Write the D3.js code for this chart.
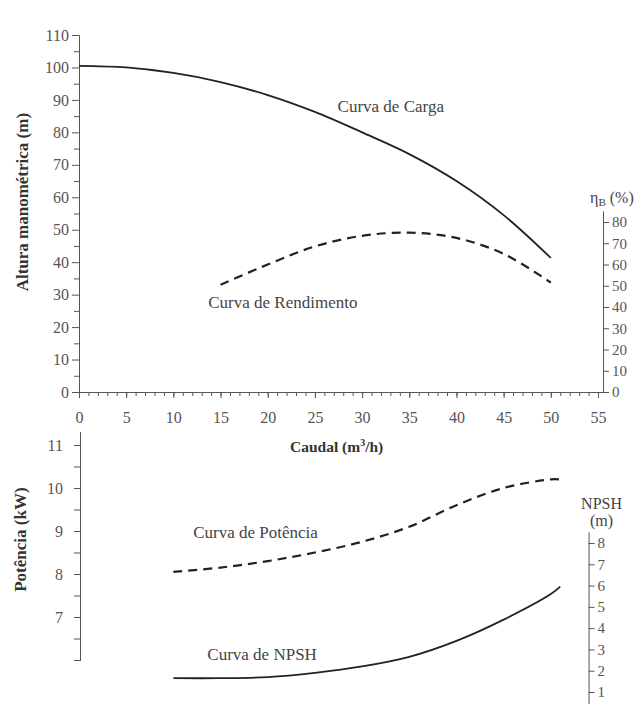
<!DOCTYPE html>
<html>
<head>
<meta charset="utf-8">
<script src="https://cdn.jsdelivr.net/npm/d3@7"></script>
<style>
  body { margin: 0; background: #fff; }
  svg text { font-family: "Liberation Serif", "DejaVu Serif", serif !important; }
  .tick text { fill: #555; }
  .domain, .tick line { stroke: #555; }
</style>
</head>
<body>
<svg id="chart" width="636" height="704"></svg>
<script>
// caudal (m3/h)
const qCarga = [0, 5, 10, 15, 20, 25, 30, 35, 40, 45, 50];
const hCarga = [100.5, 100, 98.3, 95.5, 91.5, 86.3, 80, 73.3, 65, 54.5, 41.3];

const qRend = [15, 20, 25, 30, 35, 40, 45, 50];
const etaRend = [50.5, 60, 68.5, 73.5, 75, 72.5, 65, 51.5];

const qPot = [10, 15, 20, 25, 30, 35, 40, 45, 50, 51];
const pPot = [8.05, 8.15, 8.3, 8.5, 8.75, 9.1, 9.6, 10.0, 10.2, 10.2];

const qNpsh = [10, 15, 20, 25, 30, 35, 40, 45, 50, 51];
const npsh = [1.65, 1.65, 1.7, 1.9, 2.2, 2.65, 3.4, 4.4, 5.6, 5.95];

const xTicks = d3.range(0, 56, 5);
const hTicks = d3.range(0, 111, 10);
const etaTicks = d3.range(0, 81, 10);
const pTicks = [7, 8, 9, 10, 11];
const npshTicks = [1, 2, 3, 4, 5, 6, 7, 8];

const svg = d3.select('#chart');

const x = d3.scaleLinear().domain([0, 55]).range([79, 598]);
const yH = d3.scaleLinear().domain([0, 110]).range([392, 35]);
const yEta = d3.scaleLinear().domain([0, 80]).range([392, 222]);
const yP = d3.scaleLinear().domain([6, 11]).range([660, 445]);
const yN = d3.scaleLinear().domain([1, 8]).range([692, 543]);

const serif = '"Liberation Serif", "DejaVu Serif", serif';

function styleAxis(g, size) {
  g.attr('font-family', null);
  g.selectAll('text')
    .style('font-family', serif)
    .attr('font-size', size);
}

// ---- top chart: left axis (altura)
svg.append('g')
  .attr('transform', `translate(${x(0)},0)`)
  .call(d3.axisLeft(yH).tickValues(d3.range(5, 110, 10)).tickSize(5).tickFormat('').tickSizeOuter(0));
svg.append('g')
  .attr('transform', `translate(${x(0)},0)`)
  .call(d3.axisLeft(yH).tickValues(hTicks).tickSize(7).tickPadding(3).tickSizeOuter(0))
  .call(g => styleAxis(g, 16));

// x axis (caudal)
svg.append('g')
  .attr('transform', `translate(0,${yH(0)})`)
  .call(d3.axisBottom(x).tickValues(d3.range(0, 56, 1)).tickSize(4).tickFormat('').tickSizeOuter(0))
  .call(g => g.select('.domain').attr('d', `M${x(0)},0.5H${x(55) + 5}`));
svg.append('g')
  .attr('transform', `translate(0,${yH(0)})`)
  .call(d3.axisBottom(x).tickValues(xTicks).tickSize(6).tickPadding(14).tickSizeOuter(0))
  .call(g => g.select('.domain').remove())
  .call(g => styleAxis(g, 16));

// right axis (rendimento)
const etaX = x(55) + 5;
svg.append('g')
  .attr('transform', `translate(${etaX},0)`)
  .call(d3.axisRight(yEta).tickValues(etaTicks).tickSize(6).tickPadding(3).tickSizeOuter(0))
  .call(g => g.select('.domain').attr('d', `M0.5,${yEta(0)}V${yEta(85)}`))
  .call(g => styleAxis(g, 15));

svg.append('text')
  .attr('x', etaX - 13)
  .attr('y', yEta(89))
  .attr('font-size', 16)
  .attr('fill', '#444')
  .html('η<tspan font-size="11" dy="3">B</tspan><tspan dy="-3"> (%)</tspan>');

svg.append('text')
  .attr('transform', `translate(28,${yH(58.5)}) rotate(-90)`)
  .attr('text-anchor', 'middle')
  .attr('font-size', 17)
  .attr('font-weight', 'bold')
  .attr('fill', '#333')
  .text('Altura manométrica (m)');

svg.append('text')
  .attr('x', x(27.3))
  .attr('y', 452)
  .attr('text-anchor', 'middle')
  .attr('font-size', 15.5)
  .attr('font-weight', 'bold')
  .attr('fill', '#333')
  .html('Caudal (m<tspan font-size="10" dy="-6">3</tspan><tspan dy="6">/h)</tspan>');

// curves top
const lineH = d3.line().x(d => x(d[0])).y(d => yH(d[1])).curve(d3.curveCatmullRom);
const lineEta = d3.line().x(d => x(d[0])).y(d => yEta(d[1])).curve(d3.curveCatmullRom);

svg.append('path')
  .datum(d3.zip(qCarga, hCarga))
  .attr('fill', 'none')
  .attr('stroke', '#222')
  .attr('stroke-width', 1.8)
  .attr('d', lineH);

svg.append('path')
  .datum(d3.zip(qRend, etaRend))
  .attr('fill', 'none')
  .attr('stroke', '#222')
  .attr('stroke-width', 2.2)
  .attr('stroke-dasharray', '9,6')
  .attr('d', lineEta);

svg.append('text')
  .attr('x', x(27.4)).attr('y', yH(86.3))
  .attr('font-size', 17).attr('fill', '#444')
  .text('Curva de Carga');

svg.append('text')
  .attr('x', x(13.7)).attr('y', yEta(39.5))
  .attr('font-size', 17).attr('fill', '#444')
  .text('Curva de Rendimento');

// ---- bottom chart: left axis (potencia)
svg.append('g')
  .attr('transform', `translate(${x(0) + 2},0)`)
  .call(d3.axisLeft(yP).tickValues(d3.range(6, 11.1, 0.5)).tickSize(7).tickFormat('').tickSizeOuter(0))
  .call(g => g.select('.domain').attr('d', `M-0.5,${yP(6)}V${yP(11.3)}`));
svg.append('g')
  .attr('transform', `translate(${x(0) + 2},0)`)
  .call(d3.axisLeft(yP).tickValues(pTicks).tickFormat(d3.format('d')).tickSize(7).tickPadding(11).tickSizeOuter(0))
  .call(g => g.select('.domain').remove())
  .call(g => styleAxis(g, 16));

svg.append('text')
  .attr('transform', `translate(26,${yP(8.8)}) rotate(-90)`)
  .attr('text-anchor', 'middle')
  .attr('font-size', 17)
  .attr('font-weight', 'bold')
  .attr('fill', '#333')
  .text('Potência (kW)');

// right axis (NPSH)
const nX = x(54);
svg.append('g')
  .attr('transform', `translate(${nX},0)`)
  .call(d3.axisRight(yN).tickValues(npshTicks).tickFormat(d3.format('d')).tickSize(6).tickPadding(3).tickSizeOuter(0))
  .call(g => g.select('.domain').attr('d', `M0.5,${yN(0)}V${yN(8.5)}`))
  .call(g => styleAxis(g, 15));

svg.append('text')
  .attr('x', nX + 13).attr('y', yN(9.6))
  .attr('text-anchor', 'middle')
  .attr('font-size', 16).attr('fill', '#444')
  .text('NPSH');
svg.append('text')
  .attr('x', nX + 13).attr('y', yN(8.8))
  .attr('text-anchor', 'middle')
  .attr('font-size', 16).attr('fill', '#444')
  .text('(m)');

const lineP = d3.line().x(d => x(d[0])).y(d => yP(d[1])).curve(d3.curveCatmullRom);
const lineN = d3.line().x(d => x(d[0])).y(d => yN(d[1])).curve(d3.curveCatmullRom);

svg.append('path')
  .datum(d3.zip(qPot, pPot))
  .attr('fill', 'none')
  .attr('stroke', '#222')
  .attr('stroke-width', 2.2)
  .attr('stroke-dasharray', '9,6')
  .attr('d', lineP);

svg.append('path')
  .datum(d3.zip(qNpsh, npsh))
  .attr('fill', 'none')
  .attr('stroke', '#222')
  .attr('stroke-width', 1.8)
  .attr('d', lineN);

svg.append('text')
  .attr('x', x(12.1)).attr('y', yP(8.84))
  .attr('font-size', 17).attr('fill', '#444')
  .text('Curva de Potência');

svg.append('text')
  .attr('x', x(13.6)).attr('y', yN(2.5))
  .attr('font-size', 17).attr('fill', '#444')
  .text('Curva de NPSH');
</script>
</body>
</html>
